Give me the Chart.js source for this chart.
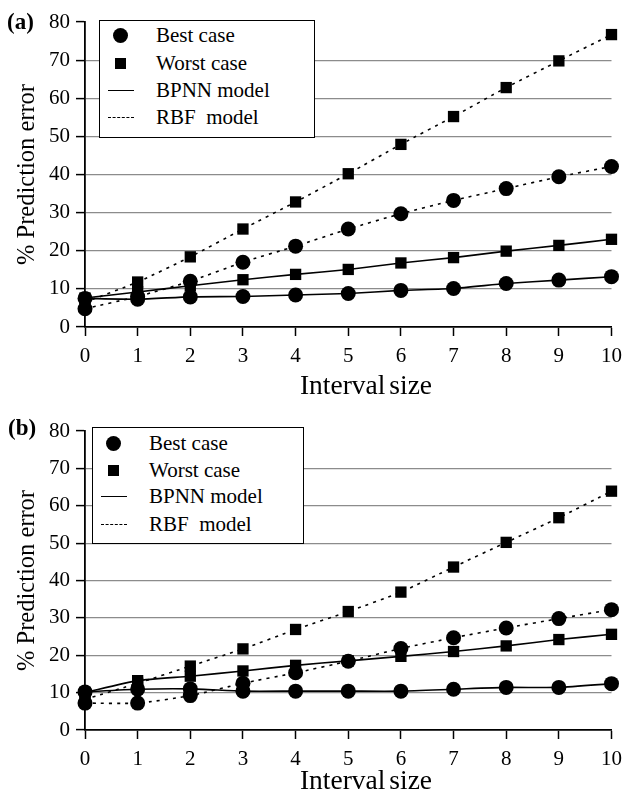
<!DOCTYPE html>
<html>
<head>
<meta charset="utf-8">
<script src="https://cdn.jsdelivr.net/npm/chart.js@4"></script>
<style>
  body { margin: 0; background: #fff; }
  #wrap { position: relative; width: 630px; height: 801px; overflow: hidden; font-family: "Liberation Serif", serif; }
  canvas { position: absolute; left: 0; }
  .tag { position: absolute; font-weight: bold; font-size: 23px; line-height: 1; }
  .xtitle { position: absolute; width: 300px; text-align: center; font-size: 27.5px; line-height: 30px; word-spacing: -3px; }
  .legend { position: absolute; background: #fff; border: 1.5px solid #000; box-sizing: border-box; }
  .row { position: absolute; left: 0; height: 26px; width: 100%; font-size: 21px; line-height: 26px; }
  .row span.lbl { position: absolute; left: 56px; top: 0; }
  .dot { position: absolute; left: 13px; top: 6px; width: 15px; height: 15px; border-radius: 50%; background: #000; }
  .sq { position: absolute; left: 15px; top: 8px; width: 11px; height: 11px; background: #000; }
  .solid { position: absolute; left: 8px; top: 13px; width: 26px; border-top: 1.5px solid #000; }
  .dash { position: absolute; left: 8px; top: 13px; width: 26px; border-top: 1.5px dashed #000; }
</style>
</head>
<body>
<div id="wrap">
  <canvas id="chartA" width="630" height="403" style="top:0"></canvas>
  <canvas id="chartB" width="630" height="398" style="top:403px"></canvas>
  <div class="tag" style="left:7px; top:10px">(a)</div>
  <div class="tag" style="left:8px; top:416px">(b)</div>
  <div class="xtitle" style="left:216px; top:370px">Interval size</div>
  <div class="xtitle" style="left:216px; top:765px">Interval size</div>

  <div class="legend" style="left:99px; top:20px; width:216px; height:118px">
    <div class="row" style="top:1px"><div class="dot"></div><span class="lbl">Best case</span></div>
    <div class="row" style="top:29px"><div class="sq"></div><span class="lbl">Worst case</span></div>
    <div class="row" style="top:56px"><div class="solid"></div><span class="lbl">BPNN model</span></div>
    <div class="row" style="top:83px"><div class="dash"></div><span class="lbl">RBF&nbsp; model</span></div>
  </div>

  <div class="legend" style="left:92px; top:427px; width:212px; height:117px">
    <div class="row" style="top:2px"><div class="dot"></div><span class="lbl">Best case</span></div>
    <div class="row" style="top:29px"><div class="sq"></div><span class="lbl">Worst case</span></div>
    <div class="row" style="top:55px"><div class="solid"></div><span class="lbl">BPNN model</span></div>
    <div class="row" style="top:83px"><div class="dash"></div><span class="lbl">RBF&nbsp; model</span></div>
  </div>
</div>

<script>
// Interval sizes on the x axis
const intervals = [0, 1, 2, 3, 4, 5, 6, 7, 8, 9, 10];

// Panel (a)
const bpnnBestA  = [7.5, 7.3, 7.9, 8.0, 8.4, 8.8, 9.6, 10.1, 11.4, 12.3, 13.2];
const bpnnWorstA = [7.6, 9.2, 10.8, 12.4, 13.8, 15.1, 16.8, 18.2, 19.9, 21.4, 23.0];
const rbfBestA   = [4.8, 8.0, 12.0, 17.0, 21.2, 25.7, 29.7, 33.2, 36.3, 39.4, 42.1];
const rbfWorstA  = [6.5, 11.8, 18.4, 25.7, 32.8, 40.2, 47.9, 55.2, 62.8, 69.8, 76.7];

// Panel (b)
const bpnnBestB  = [10.2, 10.9, 11.0, 10.4, 10.4, 10.4, 10.4, 10.9, 11.4, 11.4, 12.4];
const bpnnWorstB = [10.0, 13.2, 14.4, 15.8, 17.3, 18.5, 19.7, 21.0, 22.5, 24.2, 25.6];
const rbfBestB   = [7.2, 7.2, 9.2, 12.5, 15.3, 18.4, 21.8, 24.7, 27.3, 29.8, 32.2];
const rbfWorstB  = [8.2, 12.5, 17.1, 21.7, 26.9, 31.7, 36.9, 43.6, 50.2, 56.8, 63.9];

const yTicks = [0, 10, 20, 30, 40, 50, 60, 70, 80];

const serif = "'Liberation Serif', 'Times New Roman', serif";

function series(data, dashed, marker) {
    return {
        data: data,
        borderColor: '#000',
        backgroundColor: '#000',
        borderWidth: 1.6,
        borderDash: dashed ? [3, 5] : [],
        pointStyle: marker,
        pointRadius: marker === 'rect' ? 8 : 7.5,
        pointBorderWidth: 0,
        tension: 0.2,
        clip: false
    };
}

function makePanel(id, best, worst, rbfBest, rbfWorst, pad, xHeight) {
    new Chart(document.getElementById(id), {
        type: 'line',
        data: {
            labels: intervals,
            datasets: [
                series(best, false, 'circle'),
                series(worst, false, 'rect'),
                series(rbfBest, true, 'circle'),
                series(rbfWorst, true, 'rect')
            ]
        },
        options: {
            responsive: false,
            animation: false,
            devicePixelRatio: 1,
            layout: { padding: pad },
            plugins: { legend: { display: false }, tooltip: { enabled: false } },
            scales: {
                x: {
                    offset: false,
                    grid: { drawOnChartArea: false, tickLength: 9, tickColor: '#000', tickWidth: 1.5 },
                    border: { color: '#000', width: 1.8 },
                    ticks: { color: '#000', padding: 8, maxRotation: 0, font: { family: serif, size: 21 } },
                    afterFit: s => { s.height = xHeight; }
                },
                y: {
                    min: 0,
                    max: 80,
                    afterBuildTicks: s => { s.ticks = yTicks.map(v => ({ value: v })); },
                    grid: {
                        color: c => (c.tick && (c.tick.value === 0 || c.tick.value === 80)) ? 'rgba(0,0,0,0)' : '#8c8c8c',
                        lineWidth: 1.2,
                        tickLength: 9,
                        tickColor: '#000',
                        tickWidth: 1.5
                    },
                    border: { color: '#000', width: 1.8 },
                    ticks: { color: '#000', padding: 6, font: { family: serif, size: 21 } },
                    title: { display: true, text: '% Prediction error', color: '#000',
                             font: { family: serif, size: 24.5 }, padding: { top: 13, bottom: 0 } },
                    afterFit: s => { s.width = 85; }
                }
            }
        }
    });
}

makePanel('chartA', bpnnBestA, bpnnWorstA, rbfBestA, rbfWorstA,
          { top: 22, left: 0, right: 12, bottom: 0 }, 76);
makePanel('chartB', bpnnBestB, bpnnWorstB, rbfBestB, rbfWorstB,
          { top: 28, left: 0, right: 12, bottom: 0 }, 71);
</script>
</body>
</html>
